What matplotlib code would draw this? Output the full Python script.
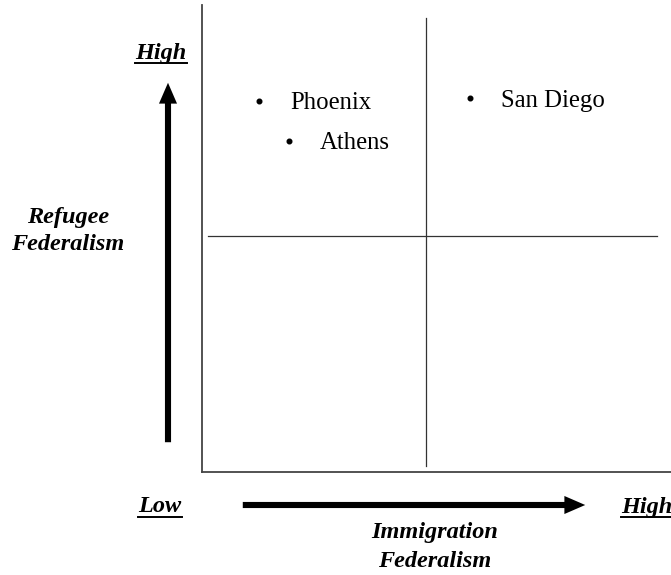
import matplotlib
matplotlib.use("Agg")
import matplotlib.pyplot as plt
from matplotlib.patches import FancyArrowPatch
from matplotlib.lines import Line2D

# Data (scores on immigration / refugee federalism scales)
cities = ["Phoenix", "Athens", "San Diego"]
immigration = [1.27, 1.94, 5.98]
refugee = [7.86, 7.01, 7.92]
x_mid = 5.0
y_mid = 5.0

W, H = 671, 575
fig = plt.figure(figsize=(W / 100, H / 100), dpi=100)
serif = ["Liberation Serif", "DejaVu Serif"]

def fx(px):
    return px / W

def fy(py):
    return 1 - py / H

ax = fig.add_axes([fx(202), fy(472), fx(671) - fx(202), fy(5) - fy(472)])
ax.set_xlim(0, 10.47)
ax.set_ylim(0, 9.89)
for s in ["top", "right"]:
    ax.spines[s].set_visible(False)
for s in ["left", "bottom"]:
    ax.spines[s].set_linewidth(1.3)
    ax.spines[s].set_color("#444444")
ax.set_xticks([])
ax.set_yticks([])

ax.plot([x_mid, x_mid], [0.13, 9.62], color="#333333", lw=0.9)
ax.plot([0.13, 10.16], [y_mid, y_mid], color="#333333", lw=0.9)

ax.scatter(immigration, refugee, s=11, color="black", zorder=3)
for name, xv, yv in zip(cities, immigration, refugee):
    ax.annotate(name, (xv, yv), xytext=(31, 0), textcoords="offset pixels",
                ha="left", va="center_baseline", fontsize=17.8, family=serif)

# Arrows
astyle = "simple,head_length=0.75,head_width=0.65,tail_width=0.22"
fig.add_artist(FancyArrowPatch((fx(168), fy(445)), (fx(168), fy(80)),
                               transform=fig.transFigure, arrowstyle=astyle,
                               mutation_scale=20, lw=0, color="black"))
fig.add_artist(FancyArrowPatch((fx(240), fy(505)), (fx(588), fy(505)),
                               transform=fig.transFigure, arrowstyle=astyle,
                               mutation_scale=20, lw=0, color="black"))

tkw = dict(fontsize=17.5, fontweight="bold", fontstyle="italic", family=serif)
t_high_top = fig.text(fx(161), fy(53), "High", ha="center", va="center", **tkw)
t_low = fig.text(fx(160), fy(507), "Low", ha="center", va="center", **tkw)
t_high_r = fig.text(fx(621), fy(507), "High", ha="left", va="center", **tkw)
fig.text(fx(68), fy(231), "Refugee\nFederalism", ha="center", va="center",
         linespacing=1.4, **tkw)
fig.text(fx(435), fy(547), "Immigration\nFederalism", ha="center", va="center",
         linespacing=1.55, **tkw)

fig.canvas.draw()
r = fig.canvas.get_renderer()
for t in [t_high_top, t_low, t_high_r]:
    bb = t.get_window_extent(r)
    yline = bb.y0 + 1
    fig.add_artist(Line2D([bb.x0 / W, bb.x1 / W], [yline / H, yline / H],
                          transform=fig.transFigure, color="black", lw=1.4))

fig.savefig("out.png", dpi=100)
